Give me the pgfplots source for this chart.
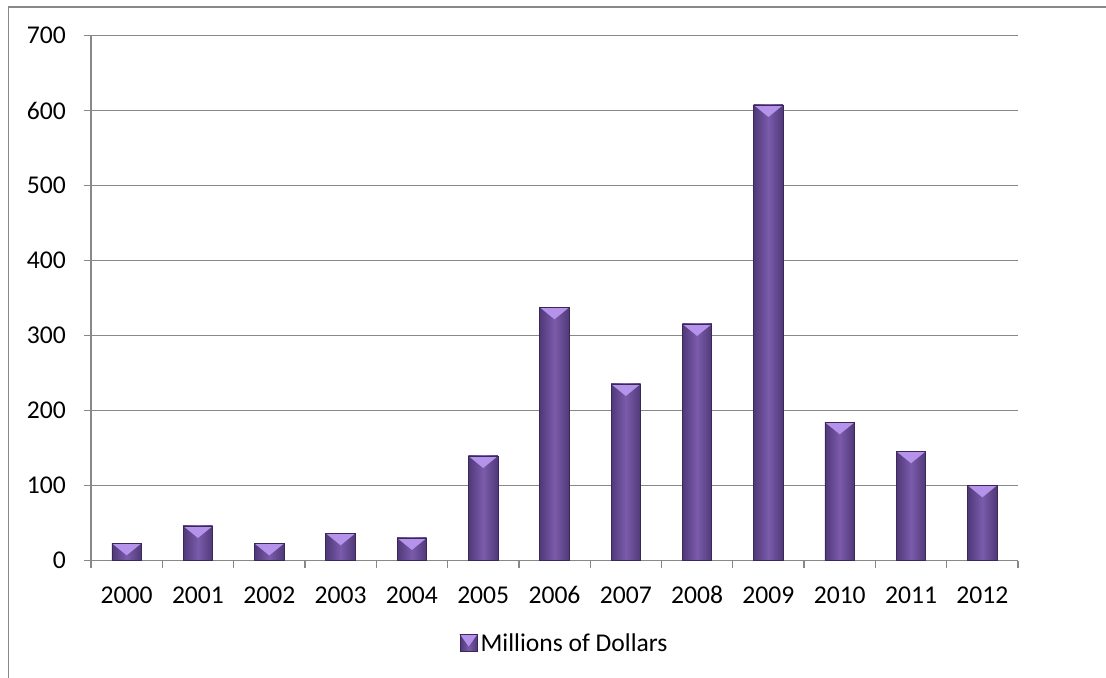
\documentclass[border=0pt]{standalone}
\usepackage{fontspec}
\setmainfont{Carlito}
\usepackage{pgfplots}
\pgfplotsset{compat=1.18}
\definecolor{barmid}{HTML}{7B5BAB}
\definecolor{baredge}{HTML}{4F3978}
\definecolor{barline}{HTML}{3A2858}
\definecolor{bevel}{HTML}{B593EA}
\definecolor{gridgray}{HTML}{888888}
\pgfplotsset{mybar/.style={ybar, bar shift=0pt, bar width=29.5bp, draw=barline, line width=0.8bp,
  left color=baredge, right color=baredge, middle color=barmid,
  path picture={
    \pgfsetfillcolor{bevel}%
    \pgfpathmoveto{\pgfpointanchor{path picture bounding box}{north west}}%
    \pgfpathlineto{\pgfpointanchor{path picture bounding box}{north east}}%
    \pgfpathlineto{\pgfpointadd{\pgfpointanchor{path picture bounding box}{north}}{\pgfpoint{0bp}{-12bp}}}%
    \pgfpathclose
    \pgfusepath{fill}%
  }}}
\begin{document}
\begin{tikzpicture}[x=1bp,y=1bp]
\useasboundingbox (0,0) rectangle (1106,678);
\draw[gridgray, line width=1.3bp] (8.5,0) -- (8.5,671) -- (1106,671);
\begin{axis}[
  at={(91bp,117.3bp)}, anchor=south west,
  scale only axis, width=927bp, height=525bp,
  xmin=-0.5, xmax=12.5, ymin=0, ymax=700,
  ytick={0,100,...,700},
  xtick={0,...,12},
  xticklabels={2000,2001,2002,2003,2004,2005,2006,2007,2008,2009,2010,2011,2012},
  minor xtick={-0.5,0.5,...,12.5},
  axis x line=bottom, axis y line=left,
  axis line style={gridgray, line width=1.3bp, -},
  ymajorgrids, grid style={gridgray, line width=1.3bp},
  minor grid style={draw=none},
  tick align=outside,
  major x tick style={draw=none},
  minor x tick style={gridgray, line width=1.3bp},
  major y tick style={gridgray, line width=1.3bp},
  major tick length=7bp, minor tick length=7bp,
  /pgf/number format/assume math mode=true,
  tick label style={font=\fontsize{25.6bp}{30bp}\selectfont, inner sep=0pt},
  xticklabel style={anchor=base, yshift=-35.6bp},
  yticklabel style={anchor=east, xshift=-18bp},
  legend style={at={(0.5115,-0.1568)}, anchor=center, draw=none, fill=none,
    font=\fontsize{25.6bp}{30bp}\selectfont, inner sep=0pt,
    nodes={inner sep=3bp}},
  legend image code/.code={
    \fill[left color=baredge, right color=baredge, middle color=barmid] (0bp,-8.5bp) rectangle (17bp,8.5bp);
    \fill[bevel] (0bp,8.5bp) -- (17bp,8.5bp) -- (8.5bp,1bp) -- cycle;
    \draw[barline, line width=0.6bp] (0bp,-8.5bp) rectangle (17bp,8.5bp);
  },
]
\addplot[mybar] coordinates {(0,23.2)};
\addlegendentry{Millions of Dollars}
\addplot[mybar, forget plot] coordinates {(1,46.3)};
\addplot[mybar, forget plot] coordinates {(2,23.0)};
\addplot[mybar, forget plot] coordinates {(3,36.5)};
\addplot[mybar, forget plot] coordinates {(4,30.3)};
\addplot[mybar, forget plot] coordinates {(5,139.6)};
\addplot[mybar, forget plot] coordinates {(6,337.9)};
\addplot[mybar, forget plot] coordinates {(7,235.6)};
\addplot[mybar, forget plot] coordinates {(8,315.6)};
\addplot[mybar, forget plot] coordinates {(9,607.6)};
\addplot[mybar, forget plot] coordinates {(10,184.5)};
\addplot[mybar, forget plot] coordinates {(11,145.9)};
\addplot[mybar, forget plot] coordinates {(12,100.5)};
\end{axis}
\end{tikzpicture}
\end{document}
